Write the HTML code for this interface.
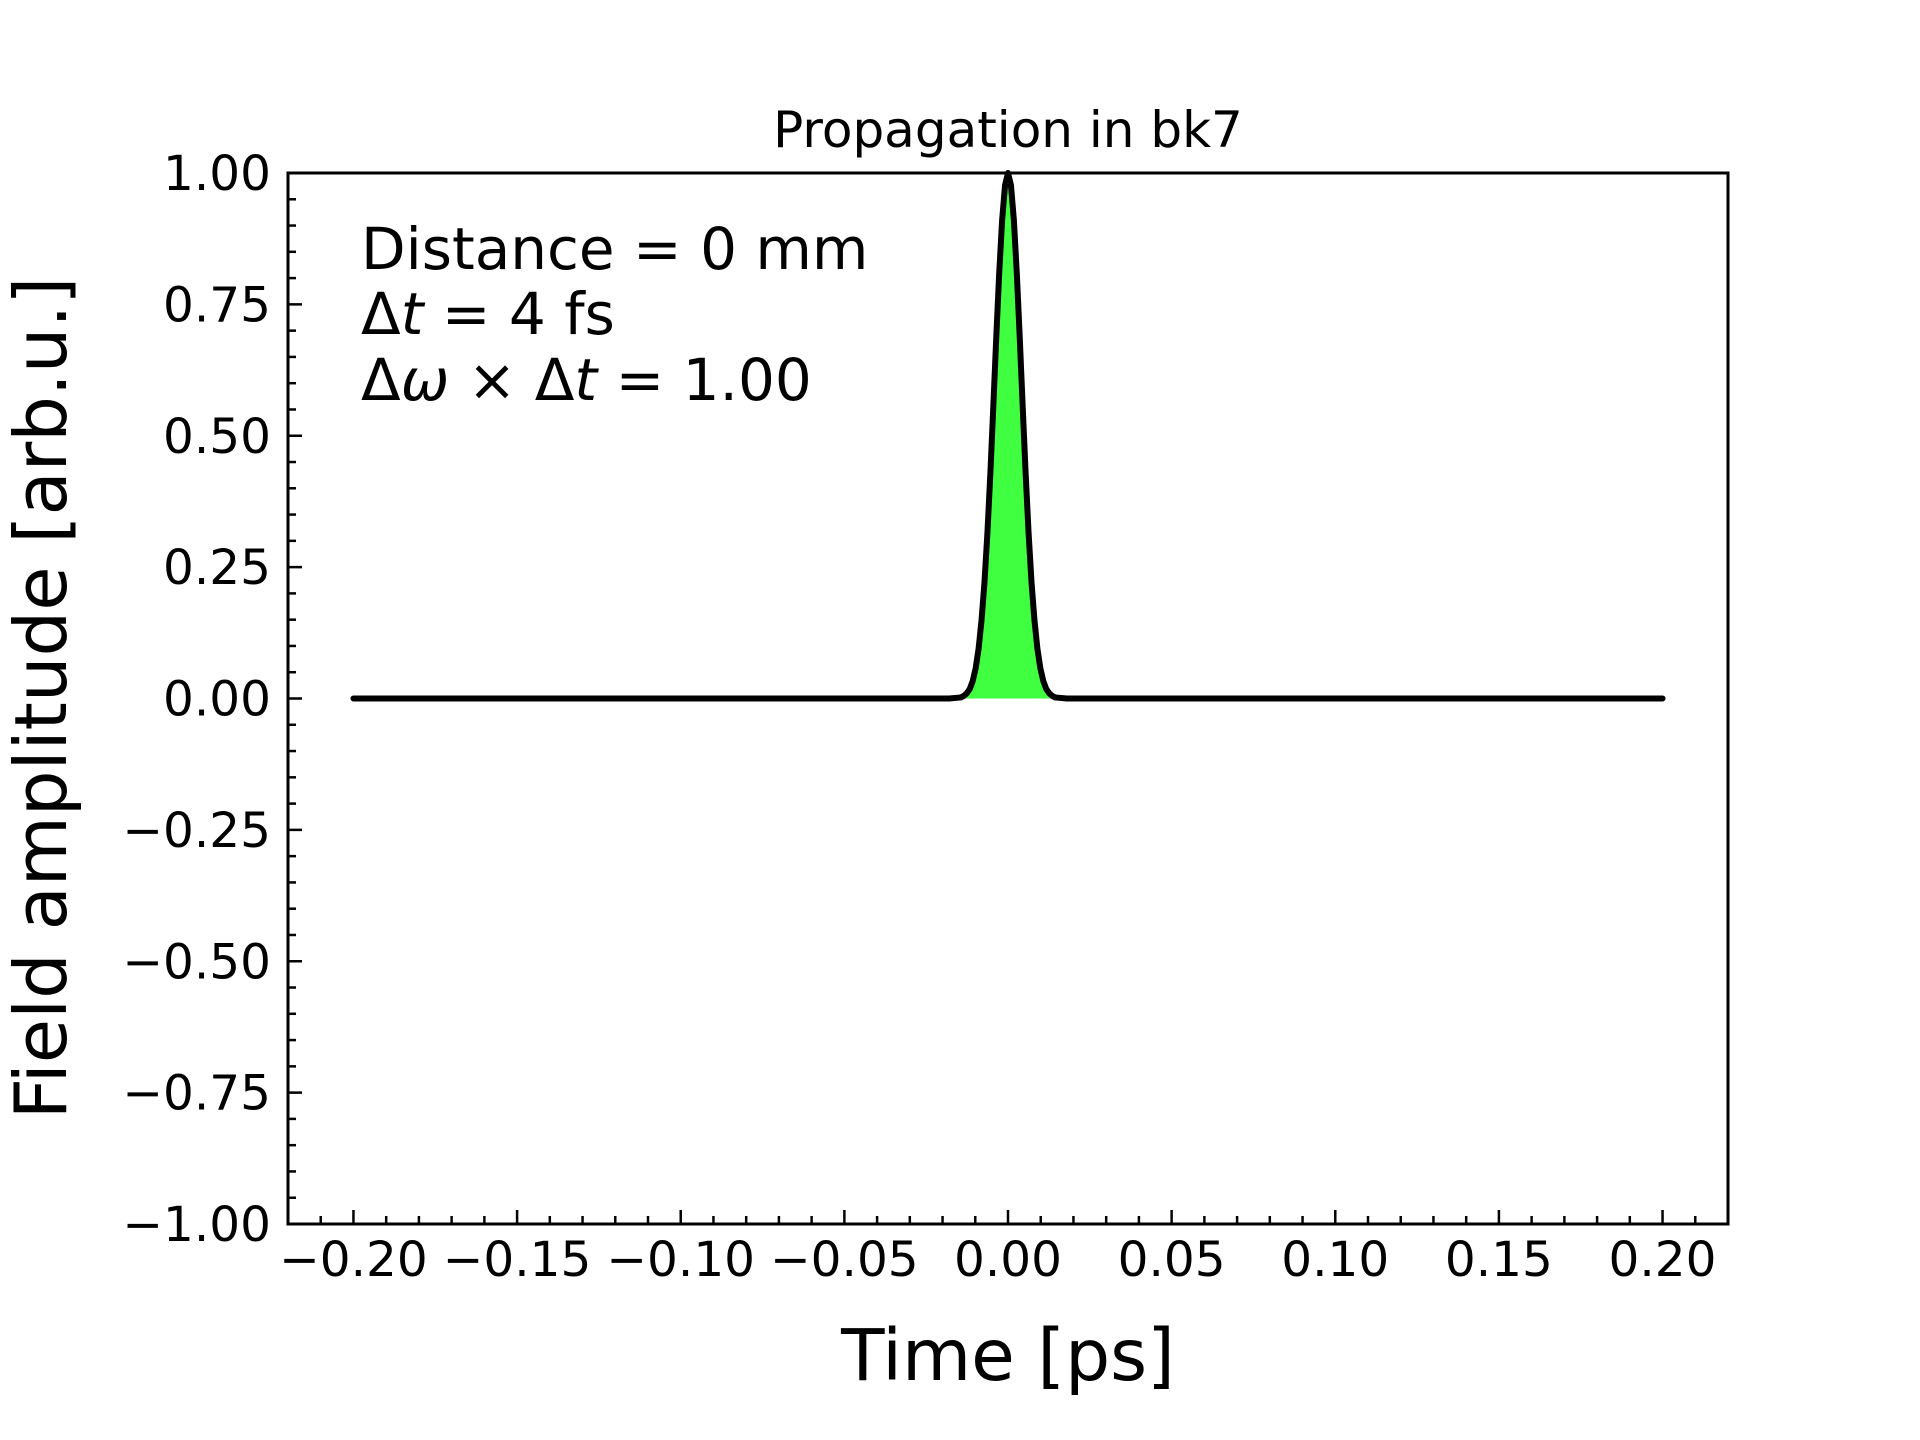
<!DOCTYPE html>
<html><head><meta charset="utf-8"><style>
html,body{margin:0;padding:0;background:#fff;}
svg{display:block;font-family:"DejaVu Sans","Liberation Sans",sans-serif;}
</style></head><body>
<svg id="chart" width="1920" height="1440" viewBox="0 0 1920 1440" xmlns="http://www.w3.org/2000/svg">
<rect width="1920" height="1440" fill="#fff"/>
<g id="plot"></g>
<text x="1008" y="147" font-size="50" text-anchor="middle">Propagation in bk7</text>
<text x="1008" y="1380" font-size="71" text-anchor="middle">Time [ps]</text>
<text transform="translate(66,698) rotate(-90)" font-size="72" text-anchor="middle">Field amplitude [arb.u.]</text>
<g font-size="58">
<text x="361" y="269">Distance = 0 mm</text>
<text x="361" y="334">Δ<tspan font-style="italic">t</tspan> = 4 fs</text>
<text x="361" y="400">Δ<tspan font-style="italic">ω</tspan> × Δ<tspan font-style="italic">t</tspan> = 1.00</text>
</g>
</svg>
<script>
const times = [-0.2,-0.018,-0.0144,-0.0135,-0.0126,-0.0117,-0.0108,-0.0099,-0.009,-0.0081,-0.0072,-0.0063,-0.0054,-0.0045,-0.0036,-0.0027,-0.0018,-0.0009,0,0.0009,0.0018,0.0027,0.0036,0.0045,0.0054,0.0063,0.0072,0.0081,0.009,0.0099,0.0108,0.0117,0.0126,0.0135,0.0144,0.018,0.2];
const amplitudes = [0,0,0.002,0.005,0.010,0.018,0.033,0.057,0.094,0.148,0.22,0.314,0.427,0.554,0.685,0.808,0.91,0.977,1,0.977,0.91,0.808,0.685,0.554,0.427,0.314,0.22,0.148,0.094,0.057,0.033,0.018,0.010,0.005,0.002,0,0];
const xTicks = [-0.2,-0.15,-0.1,-0.05,0,0.05,0.1,0.15,0.2];
const xTickLabels = ["\u22120.20","\u22120.15","\u22120.10","\u22120.05","0.00","0.05","0.10","0.15","0.20"];
const yTicks = [-1,-0.75,-0.5,-0.25,0,0.25,0.5,0.75,1];
const yTickLabels = ["\u22121.00","\u22120.75","\u22120.50","\u22120.25","0.00","0.25","0.50","0.75","1.00"];

const L=288,R=1728,T=173,B=1224;
const xMin=-0.22,xMax=0.22,yMin=-1,yMax=1;
const sx=v=>L+(v-xMin)/(xMax-xMin)*(R-L);
const sy=v=>B-(v-yMin)/(yMax-yMin)*(B-T);
const NS="http://www.w3.org/2000/svg";
const g=document.getElementById('plot');
function mk(tag,attrs,parent){const e=document.createElementNS(NS,tag);for(const k in attrs)e.setAttribute(k,attrs[k]);(parent||g).appendChild(e);return e;}

let fd=`M${sx(times[0])},${sy(0)} `;
times.forEach((t,i)=>{fd+=`L${sx(t)},${sy(amplitudes[i])} `;});
fd+=`L${sx(times[times.length-1])},${sy(0)} Z`;
const fill=mk('path',{d:fd,fill:'#40ff40',stroke:'none'});



const pts=times.map((t,i)=>`${sx(t)},${sy(amplitudes[i])}`).join(' ');
const line=mk('polyline',{points:pts,fill:'none',stroke:'#000','stroke-width':6,'stroke-linejoin':'round','stroke-linecap':'round'});



for(let i=-22;i<=22;i++){const v=i/100;if(i%5===0)continue;const x=sx(v);
 const t=mk('line',{x1:x,x2:x,y1:B,y2:B-8,stroke:'#000','stroke-width':2.5});
 
 }
for(let i=-20;i<=20;i++){if(i%5===0)continue;const y=sy(i/20);
 const t=mk('line',{x1:L,x2:L+8,y1:y,y2:y,stroke:'#000','stroke-width':2.5});
 
 }
xTicks.forEach((v,i)=>{const x=sx(v);
 const t=mk('line',{x1:x,x2:x,y1:B,y2:B-14,stroke:'#000','stroke-width':2.5});
 
 
 const lb=mk('text',{x:x,y:1276,'font-size':48.5,'text-anchor':'middle'});
 lb.textContent=xTickLabels[i];
 
 });
yTicks.forEach((v,i)=>{const y=sy(v);
 const t=mk('line',{x1:L,x2:L+14,y1:y,y2:y,stroke:'#000','stroke-width':2.5});
 
 
 const lb=mk('text',{x:271,y:y+17,'font-size':48.5,'text-anchor':'end'});
 lb.textContent=yTickLabels[i];
 
 });
const fr=mk('rect',{x:L,y:T,width:R-L,height:B-T,fill:'none',stroke:'#000','stroke-width':3});


</script>
</body></html>
